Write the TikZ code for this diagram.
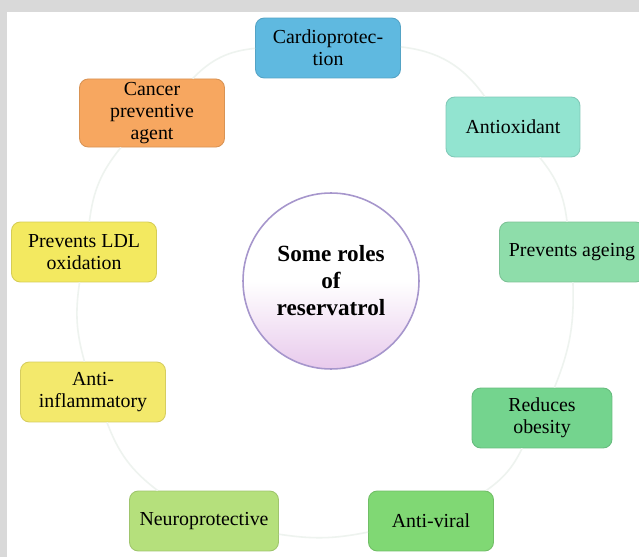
\documentclass[tikz,border=0pt]{standalone}
\usepackage{fontspec}
\setmainfont{Liberation Serif}
\usetikzlibrary{positioning}
\definecolor{pagegray}{HTML}{D9D9D9}
\definecolor{ringgray}{HTML}{EEF3EF}
\definecolor{hubedge}{HTML}{A696CC}
\definecolor{hubpink}{HTML}{E8CAEC}
\definecolor{cardioblue}{HTML}{5FB9E0}
\definecolor{antiteal}{HTML}{92E4D0}
\definecolor{ageinggreen}{HTML}{8EDDAA}
\definecolor{obesegreen}{HTML}{74D48E}
\definecolor{viralgreen}{HTML}{80D874}
\definecolor{neurogreen}{HTML}{B5E07C}
\definecolor{inflyellow}{HTML}{F3E96C}
\definecolor{ldlyellow}{HTML}{F3E960}
\definecolor{cancerorange}{HTML}{F7A760}

\begin{document}
\begin{tikzpicture}[x=0.02cm,y=-0.02cm,
  role/.style={draw=#1!88!black,line width=0.5pt,fill=#1,rounded corners=5pt,
    minimum width=2.9cm,minimum height=1.2cm,align=center,inner sep=2pt,
    font=\fontsize{11.3}{12.4}\selectfont},
  ring/.style={draw=ringgray,line width=0.9pt}]
  \fill[pagegray] (0,0) rectangle (639,557);
  \fill[white] (7,12) rectangle (639,557);
  \useasboundingbox (0,0) rectangle (639,557);

  \node[circle,draw=hubedge,line width=0.9pt,minimum size=3.52cm,
        top color=white,bottom color=hubpink,middle color=white,
        align=center,font=\bfseries\fontsize{13.2}{15.4}\selectfont]
    (hub) at (331,281) {Some roles\\of\\reservatrol};

  \node[role=cardioblue] (cardio) at (328,48) {Cardioprotec-\\tion};
  \node[role=antiteal,minimum width=2.68cm] (antiox) at (513,127) {Antioxidant};
  \node[role=ageinggreen] (ageing) at (572,252) {Prevents ageing};
  \node[role=obesegreen,minimum width=2.8cm] (obesity) at (542,418) {Reduces\\obesity};
  \node[role=viralgreen,minimum width=2.5cm] (antiviral) at (431,521) {Anti-viral};
  \node[role=neurogreen,minimum width=2.98cm] (neuro) at (204,521) {Neuroprotective};
  \node[role=inflyellow] (antiinfl) at (93,392) {Anti-\\inflammatory};
  \node[role=ldlyellow] (ldl) at (84,252) {Prevents LDL\\oxidation};
  \node[role=cancerorange] (cancer) at (152,113) {Cancer\\preventive\\agent};

  \draw[ring] (cardio) to[bend left=24] (antiox);
  \draw[ring] (antiox) to[bend left=16] (ageing);
  \draw[ring] (ageing) to[bend left=12] (obesity);
  \draw[ring] (obesity) to[bend left=14] (antiviral);
  \draw[ring] (antiviral) to[bend left=10] (neuro);
  \draw[ring] (neuro) to[bend left=16] (antiinfl);
  \draw[ring] (antiinfl) to[bend left=12] (ldl);
  \draw[ring] (ldl) to[bend left=16] (cancer);
  \draw[ring] (cancer) to[bend left=20] (cardio);
\end{tikzpicture}
\end{document}
